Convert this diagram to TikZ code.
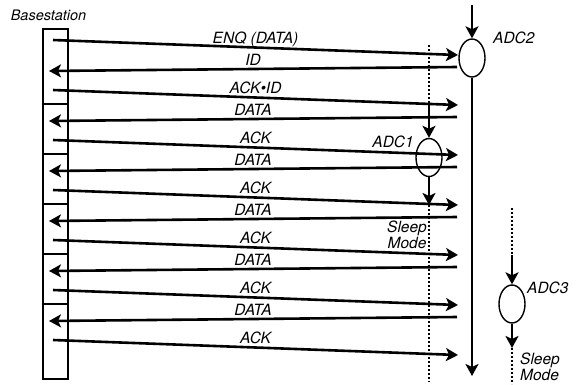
\documentclass[tikz,border=0pt]{standalone}
\usepackage{fontspec}
\newfontfamily\herosfont{TeX Gyre Heros}
\usetikzlibrary{positioning, arrows.meta, shapes.geometric}
\definecolor{color_line}{HTML}{000000}
\definecolor{color_text}{HTML}{000000}
\tikzset{
  msg_arrow/.style={-{Stealth[length=12pt, width=13pt, inset=3pt]}, draw=color_line, line width=2.6pt},
  adc_life/.style={draw=color_line, line width=2pt, dash pattern=on 2pt off 2pt},
  adc_node/.style={ellipse, draw=color_line, line width=1.4pt, minimum width=26pt, minimum height=38pt, inner sep=0pt},
  base_cell/.style={rectangle, draw=color_line, line width=1.2pt, minimum width=25pt, inner sep=0pt, outer sep=0pt},
  figure_label/.style={font=\herosfont\itshape\fontsize{15.5}{13}\selectfont, text=color_text, inner sep=1pt},
  msg_label/.style={figure_label, anchor=base, yshift=4pt, pos=0.5},
}
\begin{document}
\begin{tikzpicture}[x=1pt, y=-1pt]
  \useasboundingbox (0,0) rectangle (576,384);
  % basestation slots
  \node[base_cell, minimum height=75pt, anchor=north west] (cell1) at (43,29) {};
  \node[base_cell, minimum height=50pt, below=0pt of cell1] (cell2) {};
  \node[base_cell, minimum height=50pt, below=0pt of cell2] (cell3) {};
  \node[base_cell, minimum height=50pt, below=0pt of cell3] (cell4) {};
  \node[base_cell, minimum height=50pt, below=0pt of cell4] (cell5) {};
  \node[base_cell, minimum height=75pt, below=0pt of cell5] (cell6) {};
  \node[figure_label, font=\herosfont\itshape\fontsize{14.5}{13}\selectfont, above=7pt of cell1, xshift=-7pt] (base_label) {Basestation};
  % ADC2
  \coordinate (adc2_top) at (472,5);
  \node[adc_node] (adc2) at (472,58) {};
  \coordinate (adc2_end) at (472,376);
  \draw[msg_arrow] (adc2_top) -- (adc2.north);
  \draw[msg_arrow] (adc2.south) -- (adc2_end);
  \node[figure_label, anchor=base west] (adc2_label) at (492,43) {ADC2};
  % ADC1
  \coordinate (adc1_top) at (429,45);
  \coordinate (adc1_wake) at (429,107);
  \node[adc_node] (adc1) at (429,157.5) {};
  \coordinate (adc1_sleep) at (429,205);
  \coordinate (adc1_end) at (429,382);
  \draw[adc_life] (adc1_top) -- (adc1_wake);
  \draw[msg_arrow] (adc1_wake) -- (adc1.north);
  \draw[msg_arrow] (adc1.south) -- (adc1_sleep);
  \draw[adc_life] (adc1_sleep) -- (adc1_end);
  \node[figure_label, anchor=base east] (adc1_label) at (415,147) {ADC1};
  \node[figure_label, align=center, anchor=north east] (adc1_mode) at (428,220) {Sleep\\Mode};
  % ADC3
  \coordinate (adc3_top) at (512,208);
  \coordinate (adc3_wake) at (512,255);
  \node[adc_node] (adc3) at (512,304) {};
  \coordinate (adc3_sleep) at (512,348);
  \coordinate (adc3_end) at (512,384);
  \draw[adc_life] (adc3_top) -- (adc3_wake);
  \draw[msg_arrow] (adc3_wake) -- (adc3.north);
  \draw[msg_arrow] (adc3.south) -- (adc3_sleep);
  \draw[adc_life] (adc3_sleep) -- (adc3_end);
  \node[figure_label, anchor=base west] (adc3_label) at (526,293) {ADC3};
  \node[figure_label, align=left, anchor=north west] (adc3_mode) at (519,352) {Sleep\\Mode};
  % basestation -> ADC2
  \foreach \k/\txt in {0/{ENQ (DATA)}, 1/{ACK•ID}, 2/ACK, 3/ACK, 4/ACK, 5/ACK, 6/ACK} {
    \coordinate (req_from\k) at (53, {40+50*\k});
    \coordinate (req_to\k) at (458, {55+50*\k});
    \draw[msg_arrow] (req_from\k) -- node[msg_label] {\txt} (req_to\k);
  }
  % ADC2 -> basestation
  \foreach \k/\txt in {0/ID, 1/DATA, 2/DATA, 3/DATA, 4/DATA, 5/DATA} {
    \coordinate (rep_from\k) at (457, {67+50*\k});
    \coordinate (rep_to\k) at (49, {71+50*\k});
    \draw[msg_arrow] (rep_from\k) -- node[msg_label] {\txt} (rep_to\k);
  }
\end{tikzpicture}
\end{document}
